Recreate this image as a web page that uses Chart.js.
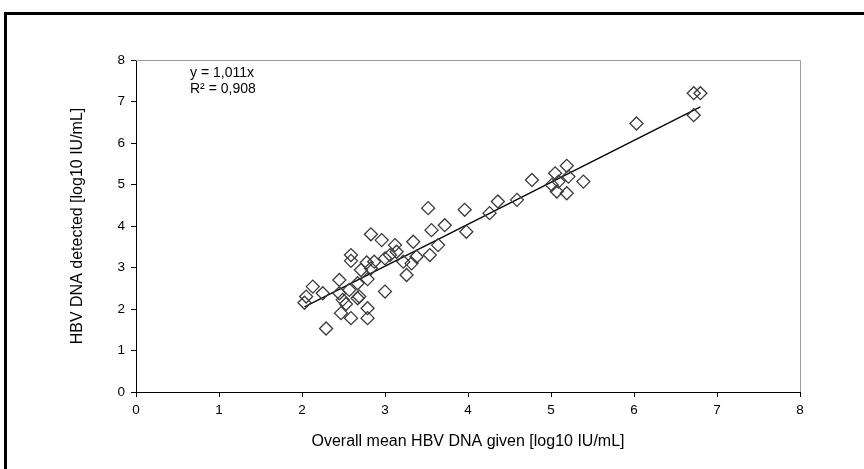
<!DOCTYPE html>
<html>
<head>
<meta charset="utf-8">
<style>
  html, body { margin: 0; padding: 0; background: #fff; }
  #wrap { position: relative; width: 864px; height: 469px; }
  #frame { position: absolute; left: 4px; top: 12px; width: 880px; height: 480px;
           border-left: 3px solid #000; border-top: 3px solid #000; box-sizing: border-box; }
  canvas { position: absolute; left: 0; top: 0; }
</style>
</head>
<body>
<div id="wrap">
  <div id="frame"></div>
  <canvas id="myChart" width="864" height="469"></canvas>
</div>
<script src="https://cdn.jsdelivr.net/npm/chart.js"></script>
<script>
// overall mean given (x) vs detected (y), log10 IU/mL
const givenX = [2.59, 2.59, 2.78, 2.71, 2.83, 2.45, 2.79, 2.67, 2.13, 2.25,
                2.45, 2.57, 2.67, 2.69, 2.49, 2.05, 2.03, 3.00, 2.53, 2.79,
                2.47, 2.59, 2.79, 2.29, 3.52, 3.96, 3.56, 3.72, 3.98, 3.34,
                2.96, 2.83, 3.12, 3.64, 3.54, 3.38, 3.14, 3.00, 3.22, 3.32,
                3.26, 2.87, 3.06, 4.26, 4.36, 4.59, 4.77, 5.05, 5.19, 5.21,
                5.09, 5.01, 5.07, 5.19, 5.39, 6.72, 6.80, 6.72, 6.03];
const detectedY = [3.30, 3.16, 3.12, 2.94, 2.98, 2.70, 2.72, 2.62, 2.54, 2.38,
                   2.38, 2.46, 2.26, 2.30, 2.22, 2.30, 2.15, 2.42, 2.12, 2.02,
                   1.90, 1.78, 1.78, 1.53, 4.43, 4.39, 3.90, 4.02, 3.86, 3.62,
                   3.66, 3.80, 3.54, 3.54, 3.30, 3.26, 3.38, 3.22, 3.14, 3.10,
                   2.82, 3.14, 3.30, 4.31, 4.59, 4.63, 5.11, 5.27, 5.45, 5.19,
                   5.07, 4.99, 4.83, 4.79, 5.07, 7.20, 7.20, 6.67, 6.47];
// trend line end points (y = 1,011x)
const trendX = [2.03, 6.80];
const trendY = [2.05, 6.87];
const eqLines = ['y = 1,011x', 'R² = 0,908'];

const points = givenX.map((x, i) => ({x: x, y: detectedY[i]}));
const trend = trendX.map((x, i) => ({x: x, y: trendY[i]}));

const FONT = 'Liberation Sans, Arial, sans-serif';

// gray top/right border of the plot + equation text
const extras = {
  id: 'extras',
  beforeDatasetsDraw(chart) {
    const {ctx, chartArea: a} = chart;
    ctx.save();
    ctx.strokeStyle = '#9a9a9a';
    ctx.lineWidth = 1;
    ctx.beginPath();
    ctx.moveTo(a.left, a.top + 0.5);
    ctx.lineTo(a.right + 0.5, a.top + 0.5);
    ctx.lineTo(a.right + 0.5, a.bottom);
    ctx.stroke();
    ctx.restore();
  },
  afterDraw(chart) {
    const {ctx, chartArea: a} = chart;
    ctx.save();
    ctx.fillStyle = '#000';
    ctx.font = '14px ' + FONT;
    ctx.textBaseline = 'middle';
    ctx.fillText(eqLines[0], a.left + 54, a.top + 13);
    ctx.fillText(eqLines[1], a.left + 54, a.top + 29);
    ctx.restore();
  }
};

new Chart(document.getElementById('myChart'), {
  type: 'scatter',
  data: {
    datasets: [{
      label: 'samples',
      data: points,
      pointStyle: 'rectRot',
      pointRadius: 6.5,
      pointHoverRadius: 6.5,
      borderColor: '#3a3a3a',
      borderWidth: 1.3,
      backgroundColor: 'rgba(0,0,0,0)'
    }, {
      type: 'line',
      label: 'trend',
      data: trend,
      borderColor: '#000',
      borderWidth: 1.3,
      pointRadius: 0,
      fill: false
    }]
  },
  options: {
    responsive: false,
    animation: false,
    layout: { padding: { left: 0, right: 64, top: 60, bottom: 0 } },
    plugins: { legend: { display: false }, tooltip: { enabled: false } },
    scales: {
      x: {
        type: 'linear', min: 0, max: 8,
        afterFit: s => { s.height = 77; },
        ticks: { stepSize: 1, color: '#000', font: { family: FONT, size: 13.5 }, padding: 5, maxRotation: 0 },
        grid: { drawOnChartArea: false, drawTicks: true, tickLength: 5, color: '#000' },
        border: { color: '#000', width: 1 },
        title: { display: true, text: 'Overall mean HBV DNA given [log10 IU/mL]', color: '#000',
                 font: { family: FONT, size: 16 }, padding: { top: 0, bottom: 18 } }
      },
      y: {
        type: 'linear', min: 0, max: 8,
        afterFit: s => { s.width = 136; },
        ticks: { stepSize: 1, color: '#000', font: { family: FONT, size: 13.5 }, padding: 6 },
        grid: { drawOnChartArea: false, drawTicks: true, tickLength: 5, color: '#000' },
        border: { color: '#000', width: 1 },
        title: { display: true, text: 'HBV DNA detected [log10 IU/mL]', color: '#000',
                 font: { family: FONT, size: 16 }, padding: { top: 68, bottom: 0 } }
      }
    }
  },
  plugins: [extras]
});
</script>
</body>
</html>
